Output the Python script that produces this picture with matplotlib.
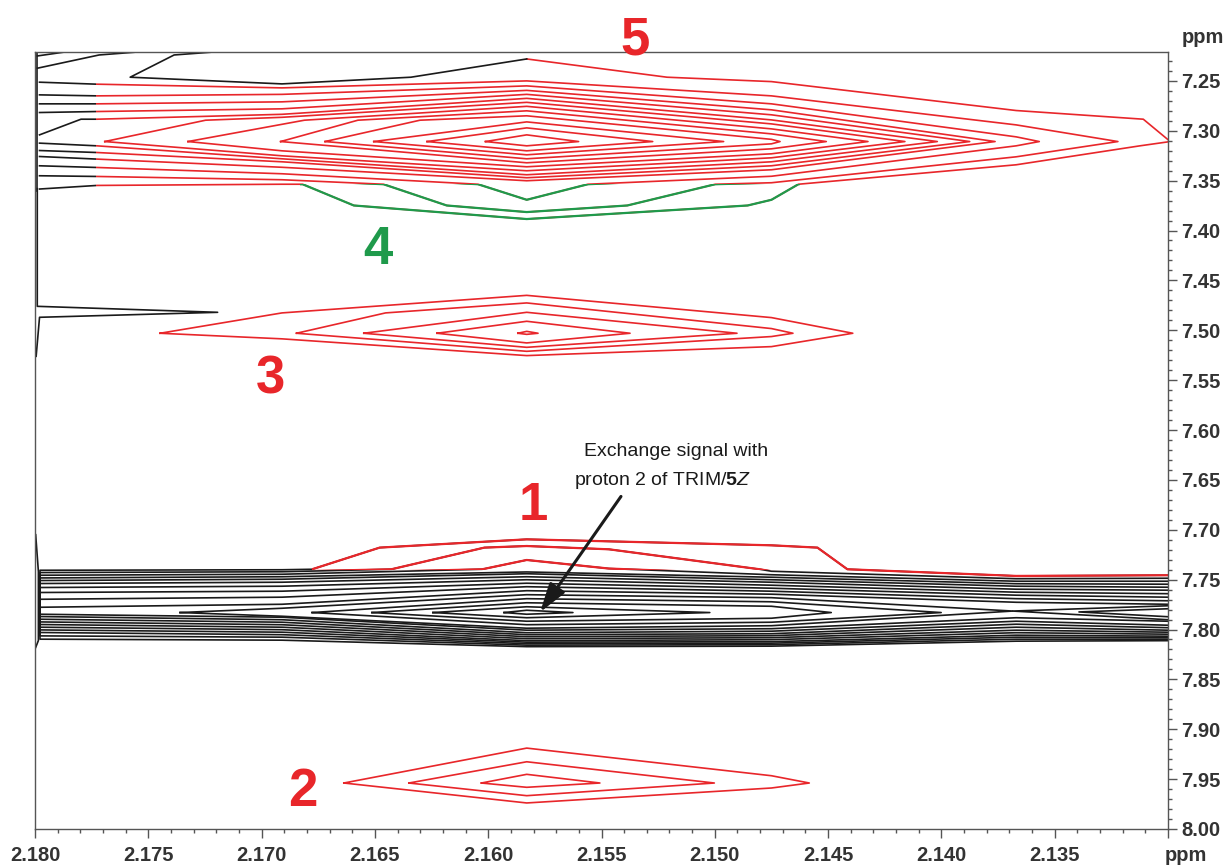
import matplotlib
matplotlib.use('Agg')
import matplotlib.pyplot as plt
from matplotlib.patches import Polygon
from matplotlib.ticker import MultipleLocator, FormatStrFormatter, FuncFormatter

plt.rcParams['font.family'] = ['Liberation Sans', 'DejaVu Sans']
plt.rcParams['mathtext.fontset'] = 'custom'
plt.rcParams['mathtext.rm'] = 'Liberation Sans'
plt.rcParams['mathtext.bf'] = 'Liberation Sans:bold'
plt.rcParams['mathtext.it'] = 'Liberation Sans:italic'

RED = '#e8262a'
BLACK = '#1a1a1a'
GREEN = '#1f9a4b'
LW = 1.2

# ── peak 5 : closed contours (innermost first) ───────────────────────────────
P5_CLOSED_X = [
    [2.16012, 2.1583, 2.15601, 2.1583, 2.16012],
    [2.16270, 2.1583, 2.15274, 2.1583, 2.16270],
    [2.16505, 2.1583, 2.14961, 2.1583, 2.16505],
    [2.16720, 2.16301, 2.1583, 2.1475, 2.14712, 2.1475, 2.1583, 2.16720],
    [2.16916, 2.16575, 2.1583, 2.1475, 2.14508, 2.1475, 2.1583, 2.16916],
    [2.17325, 2.16811, 2.1583, 2.1475, 2.14324, 2.1475, 2.1583, 2.1691, 2.17325],
    [2.17692, 2.17247, 2.1691, 2.1583, 2.1475, 2.14161, 2.1475, 2.1583, 2.1691, 2.17692],
]
P5_CLOSED_Y = [
    [7.3108, 7.3041, 7.3108, 7.3151, 7.3108],
    [7.3108, 7.2971, 7.3108, 7.3201, 7.3108],
    [7.3108, 7.2911, 7.3108, 7.3241, 7.3108],
    [7.3108, 7.2894, 7.2850, 7.3086, 7.3108, 7.3131, 7.3281, 7.3108],
    [7.3108, 7.2894, 7.2800, 7.3031, 7.3108, 7.3181, 7.3321, 7.3108],
    [7.3108, 7.2894, 7.2755, 7.2981, 7.3108, 7.3231, 7.3361, 7.3201, 7.3108],
    [7.3108, 7.2894, 7.2865, 7.2715, 7.2931, 7.3108, 7.3271, 7.3401, 7.3251, 7.3108],
]

# ── peak 5 : open contours joining the left-edge ridge ──────────────────────
P5_OPEN_X = [
    [2.17980, 2.17797, 2.17726, 2.1691, 2.1583, 2.1475, 2.14018, 2.1475, 2.1583, 2.1691, 2.17726, 2.17980],
    [2.17980, 2.17726, 2.1691, 2.1583, 2.1475, 2.13875, 2.1475, 2.1583, 2.1691, 2.17726, 2.17980],
    [2.17980, 2.17726, 2.1691, 2.1583, 2.1475, 2.13763, 2.1475, 2.1583, 2.1691, 2.17726, 2.17980],
    [2.17980, 2.17726, 2.1691, 2.1583, 2.1475, 2.1367, 2.13568, 2.1367, 2.1475, 2.15560,
     2.1583, 2.16045, 2.1691, 2.17726, 2.17980],
    [2.17980, 2.17726, 2.1691, 2.1583, 2.1475, 2.1367, 2.13221, 2.1367, 2.1475, 2.14998,
     2.15386, 2.1583, 2.16183, 2.16462, 2.1691, 2.17726, 2.17980],
    [2.1583, 2.15211, 2.1475, 2.1367, 2.13109, 2.1299, 2.13124, 2.1367, 2.14631, 2.1475,
     2.14855, 2.1583, 2.16593, 2.16819, 2.1691, 2.17726, 2.17980],
]
P5_OPEN_Y = [
    [7.3041, 7.2884, 7.2884, 7.2835, 7.2675, 7.2891, 7.3108, 7.3311, 7.3441, 7.3281, 7.3151, 7.3124],
    [7.2817, 7.2807, 7.2780, 7.2635, 7.2840, 7.3108, 7.3351, 7.3471, 7.3311, 7.3218, 7.3198],
    [7.2730, 7.2730, 7.2710, 7.2595, 7.2790, 7.3108, 7.3391, 7.3501, 7.3366, 7.3284, 7.3258],
    [7.2640, 7.2650, 7.2635, 7.2550, 7.2730, 7.3061, 7.3108, 7.3151, 7.3456, 7.3536,
     7.3692, 7.3536, 7.3431, 7.3368, 7.3351],
    [7.2513, 7.2533, 7.2570, 7.2500, 7.2650, 7.2941, 7.3108, 7.3261, 7.3521, 7.3536,
     7.3749, 7.3815, 7.3749, 7.3536, 7.3491, 7.3458, 7.3451],
    [7.2280, 7.2463, 7.2507, 7.2797, 7.2884, 7.3108, 7.3151, 7.3341, 7.3536, 7.3692,
     7.3749, 7.3885, 7.3749, 7.3536, 7.3536, 7.3548, 7.3584],
]

# ── black contours of the diagonal peak at the left edge ────────────────────
EDGE_X = [
    [2.17227, 2.17386, 2.17580, 2.1691, 2.16341, 2.1583],
    [2.17990, 2.17990],
    [2.17990, 2.17990, 2.17194, 2.17980, 2.17995],
    [2.17990, 2.17858],
    [2.17990, 2.17717, 2.17563],
    [2.17997, 2.17985, 2.17985, 2.17997],
]
EDGE_Y = [
    [7.2213, 7.2240, 7.2463, 7.2530, 7.2463, 7.2280],
    [7.2207, 7.3600],
    [7.3580, 7.4760, 7.4820, 7.4870, 7.5261],
    [7.2250, 7.2207],
    [7.2373, 7.2240, 7.2213],
    [7.705, 7.742, 7.811, 7.818],
]

# ── peak 3 ───────────────────────────────────────────────────────────────────
P3_X = [
    [2.17448, 2.1691, 2.1583, 2.1475, 2.14391, 2.1475, 2.1583, 2.1691, 2.17448],
    [2.16846, 2.16453, 2.1583, 2.1475, 2.14655, 2.1475, 2.1583, 2.16846],
    [2.16549, 2.1583, 2.14902, 2.1583, 2.16549],
    [2.16226, 2.1583, 2.15374, 2.1583, 2.16226],
    [2.15869, 2.1583, 2.15780, 2.1583, 2.15869],
]
P3_Y = [
    [7.5030, 7.4826, 7.4650, 7.4873, 7.5030, 7.5164, 7.5254, 7.5086, 7.5030],
    [7.5030, 7.4826, 7.4726, 7.4983, 7.5030, 7.5063, 7.5211, 7.5030],
    [7.5030, 7.4820, 7.5030, 7.5171, 7.5030],
    [7.5030, 7.4910, 7.5030, 7.5127, 7.5030],
    [7.5030, 7.5011, 7.5030, 7.5041, 7.5030],
]

# ── peak 2 ───────────────────────────────────────────────────────────────────
P2_X = [
    [2.16637, 2.1583, 2.1475, 2.14583, 2.1475, 2.1583, 2.16637],
    [2.16350, 2.1583, 2.15002, 2.1583, 2.16350],
    [2.16030, 2.1583, 2.15507, 2.1583, 2.16030],
]
P2_Y = [
    [7.9539, 7.9189, 7.9466, 7.9539, 7.9589, 7.9739, 7.9539],
    [7.9539, 7.9326, 7.9539, 7.9666, 7.9539],
    [7.9539, 7.9452, 7.9539, 7.9582, 7.9539],
]

# ── band at 7.78 ppm (with peak 1 bulging above it) ─────────────────────────
BAND_COLS = [2.17978, 2.1691, 2.1583, 2.1475, 2.1367, 2.1300]
BAND_TOP_X = [
    [2.17978, 2.1691, 2.16777, 2.16479, 2.1583, 2.1475, 2.14547, 2.14415, 2.1367, 2.1300],
    [2.17978, 2.1691, 2.16427, 2.16017, 2.1583, 2.15467, 2.14802, 2.1475, 2.1367, 2.1300],
    [2.17978, 2.1691, 2.16026, 2.1583, 2.15467, 2.1475, 2.1367, 2.1300],
]
BAND_TOP_Y = [
    [7.7406, 7.7401, 7.7396, 7.7179, 7.7096, 7.7156, 7.7179, 7.7396, 7.7463, 7.7456],
    [7.7429, 7.7421, 7.7396, 7.7179, 7.7163, 7.7196, 7.7396, 7.7416, 7.7491, 7.7486],
    [7.7456, 7.7446, 7.7396, 7.7303, 7.7389, 7.7451, 7.7516, 7.7516],
]
BAND_UP = [
    [7.7483, 7.7471, 7.7423, 7.7476, 7.7541, 7.7546],
    [7.7509, 7.7496, 7.7441, 7.7501, 7.7566, 7.7576],
    [7.7539, 7.7526, 7.7471, 7.7526, 7.7596, 7.7606],
    [7.7579, 7.7566, 7.7501, 7.7556, 7.7626, 7.7641],
    [7.7629, 7.7616, 7.7536, 7.7586, 7.7656, 7.7676],
    [7.7697, 7.7676, 7.7571, 7.7616, 7.7691, 7.7712],
    [7.7777, 7.7747, 7.7611, 7.7646, 7.7727, 7.7747],
]
BAND_LOW = [
    [7.8097, 7.8107, 7.8172, 7.8167, 7.8117, 7.8112],
    [7.8064, 7.8077, 7.8157, 7.8152, 7.8097, 7.8097],
    [7.8030, 7.8052, 7.8142, 7.8137, 7.8077, 7.8082],
    [7.8004, 7.8027, 7.8127, 7.8122, 7.8057, 7.8067],
    [7.7977, 7.8002, 7.8112, 7.8102, 7.8032, 7.8047],
    [7.7950, 7.7977, 7.8092, 7.8082, 7.8007, 7.8027],
    [7.7924, 7.7952, 7.8072, 7.8062, 7.7977, 7.8007],
    [7.7897, 7.7927, 7.8052, 7.8042, 7.7947, 7.7982],
    [7.7870, 7.7902, 7.8032, 7.8017, 7.7917, 7.7957],
    [7.7847, 7.7877, 7.8007, 7.7992, 7.7882, 7.7917],
]
BAND_INNER_X = [
    [2.17360, 2.1691, 2.1583, 2.1475, 2.13685, 2.1475, 2.1583, 2.1691, 2.17360],
    [2.16777, 2.1583, 2.1475, 2.14001, 2.1475, 2.1583, 2.16777],
    [2.16513, 2.1583, 2.1475, 2.14486, 2.1475, 2.1583, 2.16513],
    [2.16244, 2.1583, 2.15022, 2.1583, 2.16244],
    [2.15930, 2.1583, 2.15626, 2.1583, 2.15930],
    [2.1300, 2.13685, 2.1300],
    [2.1300, 2.13393, 2.1300],
]
BAND_INNER_Y = [
    [7.7830, 7.7787, 7.7651, 7.7681, 7.7815, 7.7962, 7.7987, 7.7867, 7.7830],
    [7.7830, 7.7691, 7.7722, 7.7830, 7.7927, 7.7952, 7.7830],
    [7.7830, 7.7732, 7.7767, 7.7830, 7.7887, 7.7917, 7.7830],
    [7.7830, 7.7772, 7.7830, 7.7882, 7.7830],
    [7.7830, 7.7807, 7.7830, 7.7847, 7.7830],
    [7.7762, 7.7815, 7.7902],
    [7.7792, 7.7824, 7.7872],
]

# labels: text, x, y (baseline), colour
PEAK_LABELS = ['5', '4', '3', '1', '2']
PEAK_LABEL_X = [2.15352, 2.16486, 2.16963, 2.15802, 2.16817]
PEAK_LABEL_Y = [7.2240, 7.4332, 7.5630, 7.6906, 7.9766]
PEAK_LABEL_C = [RED, GREEN, RED, RED, RED]

fig = plt.figure(figsize=(12.26, 8.66), dpi=100)
ax = fig.add_axes([0.02855, 0.04273, 0.92414, 0.8976])
ax.set_xlim(2.180, 2.130)
ax.set_ylim(8.00, 7.2207)


def region(pts):
    return Polygon(pts, closed=True, transform=ax.transData)


def draw(xs_list, ys_list, color, clip=None, lw=LW):
    for xs, ys in zip(xs_list, ys_list):
        ln, = ax.plot(xs, ys, color=color, lw=lw)
        if clip is not None:
            ln.set_clip_path(region(clip))


# peak 5 group : black near the left edge, green where peak 4 hangs below
red_zone = [(2.1773, 7.19), (2.1290, 7.19), (2.1290, 7.60), (2.1773, 7.60)]
black_zone = [(2.1773, 7.19), (2.1810, 7.19), (2.1810, 7.60), (2.1773, 7.60)]
green_zone = [(2.16830, 7.3538), (2.14625, 7.3538), (2.14625, 7.40), (2.16830, 7.40)]
draw(P5_CLOSED_X, P5_CLOSED_Y, RED)
draw(P5_OPEN_X, P5_OPEN_Y, RED, clip=red_zone)
draw(P5_OPEN_X, P5_OPEN_Y, BLACK, clip=black_zone)
draw(P5_OPEN_X, P5_OPEN_Y, GREEN, clip=green_zone, lw=LW + 0.4)
draw(EDGE_X, EDGE_Y, BLACK)

draw(P3_X, P3_Y, RED)
draw(P2_X, P2_Y, RED)

# band : outer contours run from the right edge, round the left ridge, back
band_x, band_y = [], []
for k in range(10):
    if k < 3:
        ux, uy = BAND_TOP_X[k], BAND_TOP_Y[k]
    else:
        ux, uy = BAND_COLS, BAND_UP[k - 3]
    band_x.append(list(ux[::-1]) + BAND_COLS)
    band_y.append(list(uy[::-1]) + BAND_LOW[k])
draw(band_x, band_y, BLACK)
draw(BAND_INNER_X, BAND_INNER_Y, BLACK)
peak1_zone = [(2.16778, 7.69), (2.16778, 7.7404), (2.1445, 7.7404), (2.1440, 7.7418),
              (2.1367, 7.7477), (2.1290, 7.7471), (2.1290, 7.69)]
draw(band_x[:3], band_y[:3], RED, clip=peak1_zone, lw=LW + 0.4)

for t, x, y, c in zip(PEAK_LABELS, PEAK_LABEL_X, PEAK_LABEL_Y, PEAK_LABEL_C):
    ax.text(x, y, t, color=c, fontsize=38, fontweight='bold',
            ha='center', va='baseline', clip_on=False)

ax.text(2.15172, 7.6215, 'Exchange signal with', fontsize=14, color=BLACK,
        ha='center', va='center')
ax.text(2.15229, 7.6505, r'proton 2 of TRIM/$\mathbf{5}\mathit{Z}$', fontsize=14,
        color=BLACK, ha='center', va='center')
ax.annotate('', xy=(2.15771, 7.7826), xytext=(2.15414, 7.6666),
            arrowprops=dict(arrowstyle='-|>,head_length=0.8,head_width=0.25',
                            color=BLACK, lw=2.2, mutation_scale=22,
                            shrinkA=0, shrinkB=0))

# ── axes styling ────────────────────────────────────────────────────────────
for s in ax.spines.values():
    s.set_color('#555555')
    s.set_linewidth(1.0)
ax.yaxis.tick_right()
ax.xaxis.set_major_locator(MultipleLocator(0.005))
ax.xaxis.set_minor_locator(MultipleLocator(0.001))
ax.yaxis.set_major_locator(MultipleLocator(0.05))
ax.yaxis.set_minor_locator(MultipleLocator(0.01))
ax.xaxis.set_major_formatter(FuncFormatter(lambda v, p: '' if v < 2.1305 else f'{v:.3f}'))
ax.yaxis.set_major_formatter(FormatStrFormatter('%.2f'))
ax.tick_params(which='major', direction='out', length=6.5, width=1.0,
               color='#555555', labelsize=14.5, labelcolor='#333333')
ax.tick_params(axis='x', which='major', pad=6)
ax.tick_params(axis='y', which='major', pad=3)
ax.tick_params(which='minor', direction='out', length=3, width=1.0, color='#555555')
for lab in ax.get_xticklabels() + ax.get_yticklabels():
    lab.set_fontweight('bold')
for tk in ax.yaxis.get_major_ticks() + ax.yaxis.get_minor_ticks():
    if tk.get_loc() < 7.445:
        tk.tick2line.set_color('#e06a6a')

ax.text(1.031, 1.0177, 'ppm', transform=ax.transAxes, fontsize=14.5,
        fontweight='bold', color='#333333', ha='center', va='center')
ax.text(1.016, -0.034, 'ppm', transform=ax.transAxes, fontsize=14.5,
        fontweight='bold', color='#333333', ha='center', va='center')

fig.savefig('out.png', dpi=100)
